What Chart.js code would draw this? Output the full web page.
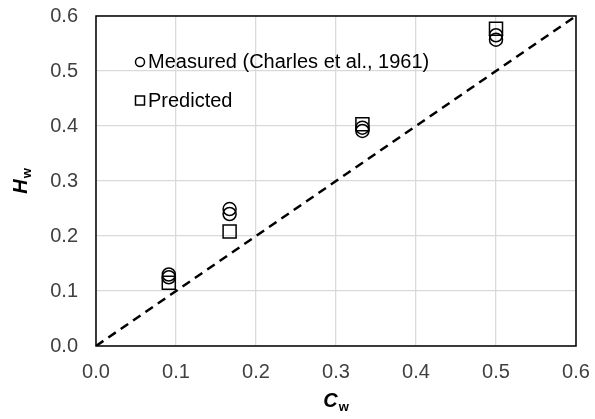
<!DOCTYPE html>
<html>
<head>
<meta charset="utf-8">
<script src="https://cdn.jsdelivr.net/npm/chart.js@4.4.0/dist/chart.umd.min.js"></script>
<style>
html,body{margin:0;padding:0;background:#fff;}
#wrap{width:595px;height:419px;position:relative;}
</style>
</head>
<body>
<div id="wrap"><canvas id="c" width="595" height="419"></canvas></div>
<script>
// Data
const concentrations = [0.091, 0.167, 0.333, 0.5];       // C_w
const measuredUpper  = [0.130, 0.249, 0.397, 0.565];     // H_w measured (first run)
const measuredLower  = [0.125, 0.240, 0.391, 0.557];     // H_w measured (second run)
const predicted      = [0.115, 0.208, 0.403, 0.577];     // H_w predicted
const parityLine     = [0, 0.6];                          // y = x reference line
const tickValues     = [0, 0.1, 0.2, 0.3, 0.4, 0.5, 0.6];
const legendLabels   = ['Measured (Charles et al., 1961)', 'Predicted'];

const FONT = '"Liberation Sans", Arial, sans-serif';
const pts = (xs, ys) => xs.map((x, i) => ({x: x, y: ys[i]}));

const markerBase = {
  borderColor: '#000', backgroundColor: 'rgba(0,0,0,0)', borderWidth: 1.5, showLine: false
};

const framePlugin = {
  id: 'frame',
  beforeDatasetsDraw(chart) {
    const {ctx, chartArea: a} = chart;
    ctx.save();
    ctx.strokeStyle = '#000';
    ctx.lineWidth = 1.5;
    ctx.strokeRect(a.left, a.top, a.right - a.left, a.bottom - a.top);
    ctx.restore();
  }
};

const titlesPlugin = {
  id: 'titles',
  afterDraw(chart) {
    const {ctx, chartArea: a} = chart;
    const main = 'bold italic 20px ' + FONT, sub = 'bold 13px ' + FONT;
    ctx.save();
    ctx.fillStyle = '#000';
    ctx.textBaseline = 'alphabetic';
    ctx.textAlign = 'left';
    // x title C_w
    ctx.font = main; let w1 = ctx.measureText('C').width;
    ctx.font = sub; let w2 = ctx.measureText('w').width;
    let x0 = (a.left + a.right) / 2 - (w1 + w2 + 1) / 2;
    ctx.font = main; ctx.fillText('C', x0, 407);
    ctx.font = sub; ctx.fillText('w', x0 + w1 + 1, 411);
    // y title H_w (rotated)
    ctx.font = main; w1 = ctx.measureText('H').width;
    ctx.font = sub; w2 = ctx.measureText('w').width;
    ctx.translate(27, (a.top + a.bottom) / 2);
    ctx.rotate(-Math.PI / 2);
    x0 = -(w1 + w2 + 1) / 2;
    ctx.font = main; ctx.fillText('H', x0, 0);
    ctx.font = sub; ctx.fillText('w', x0 + w1 + 1, 4);
    ctx.restore();
  }
};

const legendPlugin = {
  id: 'customLegend',
  afterDraw(chart) {
    const {ctx} = chart;
    ctx.save();
    ctx.strokeStyle = '#000';
    ctx.lineWidth = 1.5;
    ctx.fillStyle = '#000';
    ctx.font = '20px ' + FONT;
    ctx.textBaseline = 'middle';
    ctx.textAlign = 'left';
    ctx.beginPath(); ctx.arc(140, 62, 4.5, 0, Math.PI * 2); ctx.stroke();
    ctx.fillText(legendLabels[0], 148, 62);
    ctx.strokeRect(135.5, 96, 9, 9);
    ctx.fillText(legendLabels[1], 148, 101);
    ctx.restore();
  }
};

const axisCommon = {
  type: 'linear', min: 0, max: 0.6,
  border: {display: false},
  grid: {color: '#d9d9d9', lineWidth: 1.3, drawTicks: false},
  ticks: {
    stepSize: 0.1, color: '#404040',
    font: {family: FONT, size: 20},
    callback: v => Number(v).toFixed(1)
  },
  afterBuildTicks: s => { s.ticks = tickValues.map(v => ({value: v})); }
};

function zeroPad(s) { s.paddingLeft = 0; s.paddingRight = 0; s.paddingTop = 0; s.paddingBottom = 0; }

new Chart(document.getElementById('c'), {
  type: 'scatter',
  data: {
    datasets: [
      Object.assign({label: legendLabels[0], data: pts(concentrations, measuredUpper), pointStyle: 'circle', pointRadius: 6.5}, markerBase),
      Object.assign({label: legendLabels[0] + ' b', data: pts(concentrations, measuredLower), pointStyle: 'circle', pointRadius: 6.5}, markerBase),
      Object.assign({label: legendLabels[1], data: pts(concentrations, predicted), pointStyle: 'rect', pointRadius: 9.2}, markerBase),
      {
        type: 'line', label: 'y = x', data: pts(parityLine, parityLine),
        borderColor: '#000', borderWidth: 2.5, borderDash: [9, 6],
        pointRadius: 0, fill: false, tension: 0
      }
    ]
  },
  options: {
    responsive: false, animation: false, devicePixelRatio: 1,
    layout: {padding: {top: 16, right: 19, left: 0, bottom: 0}},
    plugins: {legend: {display: false}, tooltip: {enabled: false}},
    scales: {
      x: Object.assign({}, axisCommon, {
        ticks: Object.assign({}, axisCommon.ticks, {padding: 14, maxRotation: 0, minRotation: 0}),
        afterFit: s => { s.height = 73; zeroPad(s); }
      }),
      y: Object.assign({}, axisCommon, {
        ticks: Object.assign({}, axisCommon.ticks, {padding: 18}),
        afterFit: s => { s.width = 96; zeroPad(s); }
      })
    }
  },
  plugins: [framePlugin, titlesPlugin, legendPlugin]
});
</script>
</body>
</html>
